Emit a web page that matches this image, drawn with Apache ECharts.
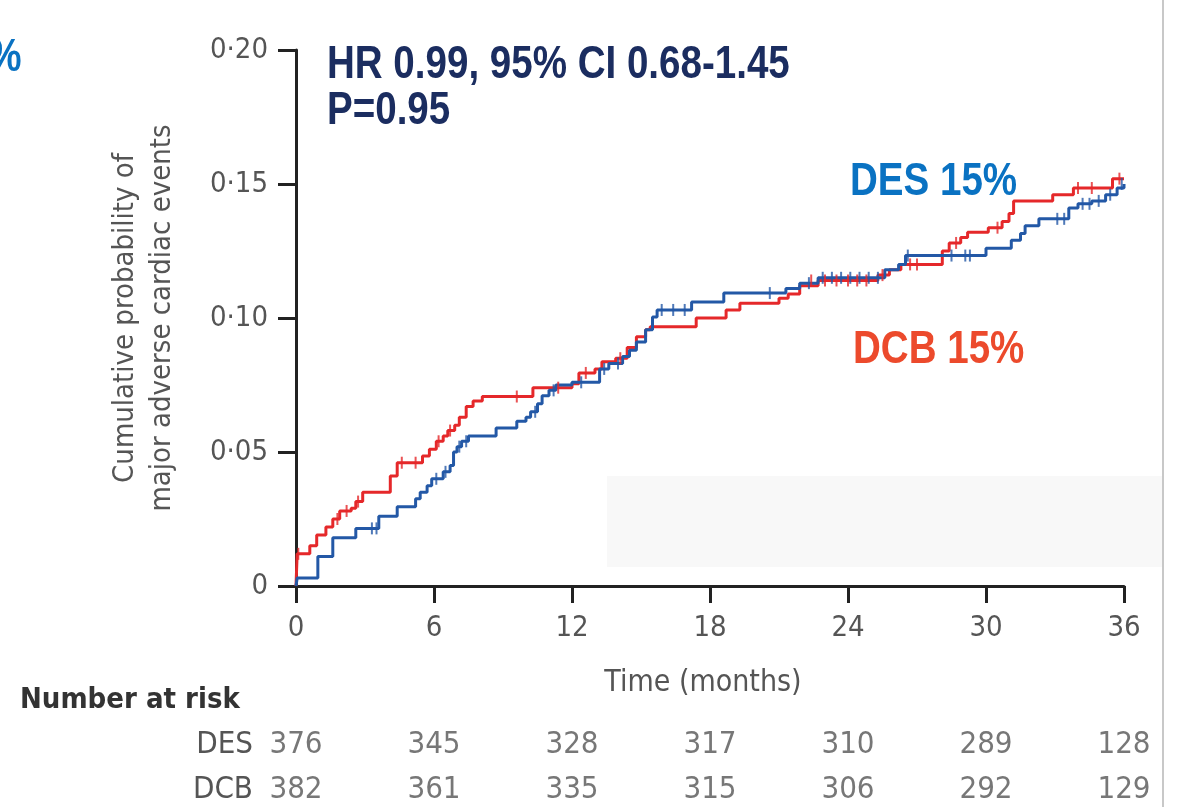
<!DOCTYPE html>
<html><head><meta charset="utf-8">
<script src="https://cdn.jsdelivr.net/npm/echarts@6/dist/echarts.min.js"></script>
<style>html,body{margin:0;padding:0;background:#fff}#c{width:1178px;height:807px}</style>
</head><body><div id="c"></div>
<script>
// ---- data ----
const xTicks = [0, 6, 12, 18, 24, 30, 36];
const yTickLabels = ['0', '0·05', '0·10', '0·15', '0·20'];
const desCurve = [[0,0],[0.05,0.003],[0.95,0.011],[1.6,0.018],[2.6,0.0215],[3.6,0.026],[4.4,0.0296],[5.2,0.0326],[5.4,0.035],[5.7,0.0374],[5.9,0.040],[6.4,0.0426],[6.7,0.045],[6.85,0.050],[7.0,0.052],[7.2,0.054],[7.5,0.056],[8.7,0.059],[9.6,0.0615],[10.0,0.063],[10.2,0.065],[10.5,0.068],[10.7,0.071],[11.0,0.073],[11.3,0.075],[12.0,0.076],[13.2,0.081],[13.6,0.083],[14.2,0.0856],[14.5,0.088],[14.8,0.091],[15.2,0.0956],[15.5,0.1004],[15.7,0.103],[17.2,0.106],[18.6,0.1093],[21.3,0.111],[21.9,0.113],[22.7,0.115],[25.6,0.118],[26.2,0.120],[26.5,0.1233],[30.0,0.126],[31.1,0.129],[31.5,0.1315],[31.7,0.1344],[32.3,0.137],[33.6,0.141],[34.0,0.1426],[34.6,0.1437],[35.2,0.146],[35.7,0.1485],[36.0,0.150]];
const dcbCurve = [[0,0],[0.05,0.012],[0.6,0.015],[0.9,0.019],[1.3,0.022],[1.6,0.025],[1.9,0.028],[2.4,0.029],[2.6,0.0315],[2.9,0.035],[4.1,0.041],[4.4,0.046],[5.5,0.0485],[5.8,0.051],[6.1,0.054],[6.4,0.056],[6.6,0.058],[6.9,0.060],[7.1,0.063],[7.4,0.067],[7.7,0.069],[8.1,0.0707],[10.3,0.074],[12.0,0.0755],[12.3,0.0795],[13.0,0.081],[13.3,0.0837],[13.9,0.085],[14.4,0.089],[14.8,0.093],[15.2,0.0956],[15.4,0.0967],[17.4,0.100],[18.7,0.103],[19.3,0.1055],[21.0,0.1074],[21.4,0.109],[21.9,0.112],[22.7,0.114],[25.3,0.116],[25.8,0.118],[26.3,0.120],[28.1,0.125],[28.4,0.128],[28.9,0.130],[29.2,0.132],[30.1,0.1337],[30.7,0.136],[31.0,0.139],[31.2,0.1437],[32.9,0.146],[33.8,0.1485],[35.5,0.152],[36.0,0.152]];
const desCensor = [[3.3,0.0215],[3.5,0.0215],[6.1,0.040],[6.5,0.0426],[7.1,0.052],[7.4,0.054],[10.4,0.065],[11.2,0.073],[12.4,0.076],[13.4,0.081],[14.0,0.083],[15.9,0.103],[16.4,0.103],[16.9,0.103],[20.6,0.1093],[22.3,0.113],[22.9,0.115],[23.3,0.115],[23.7,0.115],[24.1,0.115],[24.5,0.115],[24.9,0.115],[25.3,0.115],[26.6,0.1233],[28.5,0.1233],[29.1,0.1233],[29.3,0.1233],[33.1,0.137],[33.4,0.137],[34.2,0.1426],[34.5,0.1426],[34.9,0.1437],[35.4,0.146],[35.9,0.150]];
const dcbCensor = [[0.1,0.012],[1.8,0.025],[2.2,0.028],[2.7,0.0315],[4.6,0.046],[5.2,0.046],[6.2,0.054],[6.7,0.058],[9.6,0.0707],[11.4,0.074],[12.6,0.0795],[14.1,0.085],[22.4,0.114],[23.0,0.114],[23.5,0.114],[24.0,0.114],[24.4,0.114],[24.8,0.114],[25.5,0.116],[26.7,0.120],[27.0,0.120],[28.7,0.128],[30.5,0.1337],[34.0,0.1485],[34.6,0.1485],[35.8,0.152]];
const riskGroups = ['DES', 'DCB'];
const desAtRisk = [376, 345, 328, 317, 310, 289, 128];
const dcbAtRisk = [382, 361, 335, 315, 306, 292, 129];

// ---- styling ----
const NARROW = '"DejaVu Sans Condensed","Liberation Sans Narrow",sans-serif';
const ARIAL = '"Liberation Sans",Arial,sans-serif';
const GRAY = '#555';
const BLUE_LINE = '#2358a6';
const RED_LINE = '#e5282a';

const chart = echarts.init(document.getElementById('c'), null, {renderer: 'canvas'});

function riskData(arr, group) { return arr.map((v, i) => [xTicks[i], group, v]); }

function boldNarrow(text, x, y, size, color, lh) {
  return {type: 'text', x: x, y: y, scaleX: 0.82,
    style: {text: text, fontFamily: ARIAL, fontWeight: 'bold', fontSize: size, lineHeight: lh || size, fill: color}};
}

chart.setOption({
  animation: false,
  backgroundColor: '#fff',
  grid: [
    {left: 296, right: 54, top: 50, bottom: 221},
    {left: 296, right: 54, top: 745, height: 45}
  ],
  xAxis: [
    {
      gridIndex: 0, type: 'value', min: 0, max: 36, interval: 6,
      name: 'Time (months)', nameLocation: 'middle', nameGap: 82,
      nameTextStyle: {fontFamily: NARROW, fontSize: 30, color: GRAY, padding: [0, 14, 0, 0]},
      axisLine: {lineStyle: {color: '#222', width: 3}},
      axisTick: {length: 17, lineStyle: {color: '#222', width: 3}},
      axisLabel: {margin: 28, fontFamily: NARROW, fontSize: 29, color: GRAY},
      splitLine: {show: false}
    },
    {gridIndex: 1, type: 'value', min: 0, max: 36, interval: 6, show: false}
  ],
  yAxis: [
    {
      gridIndex: 0, type: 'value', min: 0, max: 0.2, interval: 0.05,
      name: 'Cumulative probability of\nmajor adverse cardiac events',
      nameLocation: 'middle', nameGap: 115, nameRotate: 90,
      nameTextStyle: {fontFamily: NARROW, fontSize: 29, color: GRAY, lineHeight: 37},
      axisLine: {show: true, lineStyle: {color: '#222', width: 3}},
      axisTick: {show: true, length: 18, lineStyle: {color: '#222', width: 3}},
      axisLabel: {margin: 28, fontFamily: NARROW, fontSize: 29, color: GRAY,
        formatter: (v) => yTickLabels[Math.round(v / 0.05)]},
      splitLine: {show: false}
    },
    {
      gridIndex: 1, type: 'category', data: riskGroups, inverse: true, boundaryGap: false,
      axisLine: {show: false}, axisTick: {show: false},
      axisLabel: {margin: 43, fontFamily: NARROW, fontSize: 31, color: GRAY}
    }
  ],
  graphic: [
    {type: 'rect', silent: true, z: -10, shape: {x: 607, y: 476, width: 555, height: 91}, style: {fill: '#f8f8f8'}},
    {type: 'rect', silent: true, z: -10, shape: {x: 1162, y: 0, width: 2, height: 807}, style: {fill: '#c8c8c8'}},
    boldNarrow('%', -12, 35, 46, '#0a72c2'),
    boldNarrow('HR 0.99, 95% CI 0.68-1.45\nP=0.95', 327, 42, 47, '#1b2d60', 46),
    boldNarrow('DES 15%', 850, 159, 47, '#0a72c2'),
    boldNarrow('DCB 15%', 853, 327, 47, '#ec4a2c'),
    {type: 'text', left: 20, top: 686, style: {text: 'Number at risk', fontFamily: NARROW, fontWeight: 'bold', fontSize: 29, fill: '#333'}}
  ],
  series: [
    {name: 'DES', type: 'line', step: 'end', xAxisIndex: 0, yAxisIndex: 0, data: desCurve, showSymbol: false,
      lineStyle: {color: BLUE_LINE, width: 3}, z: 3},
    {name: 'DCB', type: 'line', step: 'end', xAxisIndex: 0, yAxisIndex: 0, data: dcbCurve, showSymbol: false,
      lineStyle: {color: RED_LINE, width: 3}, z: 2},
    {name: 'DES censored', type: 'scatter', xAxisIndex: 0, yAxisIndex: 0, data: desCensor, symbol: 'rect', symbolSize: [2, 12],
      itemStyle: {color: BLUE_LINE}, z: 4},
    {name: 'DCB censored', type: 'scatter', xAxisIndex: 0, yAxisIndex: 0, data: dcbCensor, symbol: 'rect', symbolSize: [2, 12],
      itemStyle: {color: RED_LINE}, z: 4},
    {name: 'DES at risk', type: 'scatter', xAxisIndex: 1, yAxisIndex: 1, data: riskData(desAtRisk, 'DES'), symbolSize: 0,
      label: {show: true, position: 'inside', formatter: (p) => p.value[2], fontFamily: NARROW, fontSize: 31, color: GRAY}},
    {name: 'DCB at risk', type: 'scatter', xAxisIndex: 1, yAxisIndex: 1, data: riskData(dcbAtRisk, 'DCB'), symbolSize: 0,
      label: {show: true, position: 'inside', formatter: (p) => p.value[2], fontFamily: NARROW, fontSize: 31, color: GRAY}}
  ]
});
</script>
</body></html>
